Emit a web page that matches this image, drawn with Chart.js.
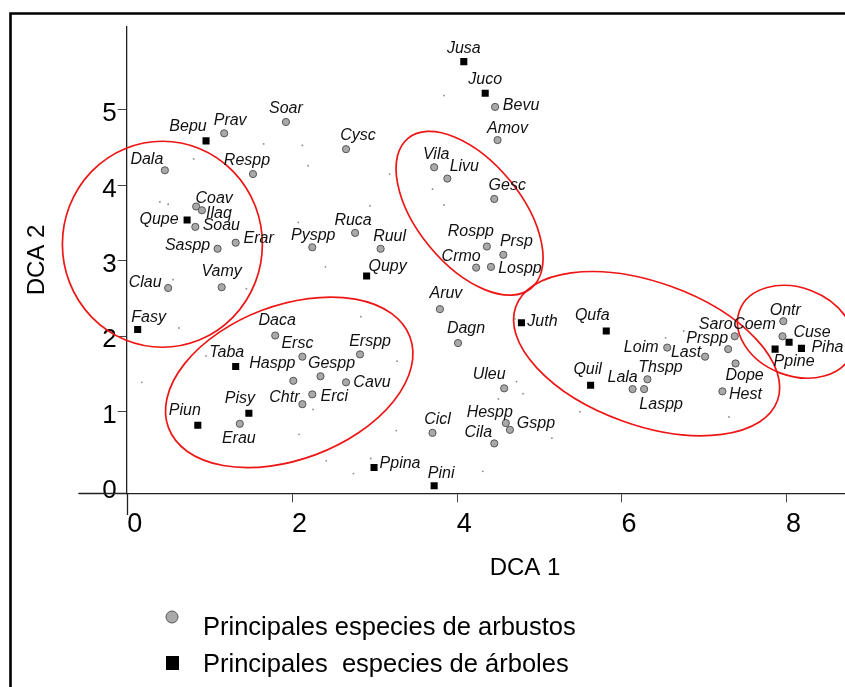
<!DOCTYPE html>
<html><head><meta charset="utf-8">
<script src="https://cdn.jsdelivr.net/npm/chart.js@4"></script>
<style>html,body{margin:0;padding:0;background:#fff;overflow:hidden}#wrap{width:845px;height:687px}</style>
</head><body><div id="wrap"><canvas id="c" width="845" height="687"></canvas></div>
<script>
// ---- data ----
const shrubNames = ['Prav','Soar','Dala','Respp','Coav','Ilaq','Soau','Erar','Saspp','Vamy','Clau','Daca','Ersc','Erspp','Gespp','Haspp','Cavu','Erci','Chtr','Erau','Bevu','Amov','Cysc','Vila','Livu','Gesc','Ruca','Pyspp','Ruul','Rospp','Prsp','Crmo','Lospp','Aruv','Dagn','Uleu','Hespp','Gspp','Cicl','Cila','Loim','Saro','Prspp','Last','Dope','Thspp','Lala','Laspp','Hest','Ontr','Coem'];
const shrubX = [1.17,1.92,0.45,1.52,0.83,0.90,0.82,1.31,1.09,1.14,0.49,1.79,2.12,2.82,2.34,2.01,2.65,2.24,2.12,1.36,4.46,4.49,2.65,3.72,3.88,4.45,2.76,2.24,3.07,4.36,4.56,4.23,4.41,3.79,4.01,4.57,4.59,4.64,3.70,4.45,6.55,7.37,7.29,7.01,7.38,6.31,6.13,6.27,7.22,7.96,7.95];
const shrubY = [4.69,4.84,4.20,4.15,3.72,3.67,3.45,3.24,3.16,2.65,2.64,2.01,1.73,1.76,1.47,1.41,1.39,1.23,1.10,0.84,5.04,4.60,4.48,4.24,4.09,3.82,3.37,3.18,3.16,3.19,3.08,2.91,2.92,2.36,1.91,1.31,0.85,0.76,0.72,0.58,1.85,2.00,1.83,1.73,1.64,1.43,1.30,1.30,1.27,2.20,2.00];

const treeNames = ['Bepu','Qupe','Fasy','Taba','Pisy','Piun','Ppina','Jusa','Juco','Qupy','Juth','Qufa','Quil','Pini','Cuse','Ppine','Piha'];
const treeX = [0.95,0.72,0.12,1.31,1.47,0.85,2.99,4.08,4.34,2.90,4.78,5.81,5.62,3.72,8.03,7.86,8.18];
const treeY = [4.59,3.54,2.09,1.60,0.98,0.82,0.26,5.64,5.22,2.80,2.18,2.07,1.35,0.02,1.92,1.83,1.84];

const siteX = [0.80,1.65,0.39,0.49,2.07,1.44,0.62,0.55,0.17,0.95,2.83,3.27,3.26,2.08,2.41,2.74,2.95,2.25,3.84,2.12,2.19,3.18,2.94,3.70,3.84,2.40,4.72,4.80,4.50,5.15,4.31,5.49,4.70,6.75,6.53,7.30];
const siteY = [4.35,4.55,3.78,3.75,3.51,2.63,2.11,2.75,1.39,1.74,2.26,1.67,0.75,0.70,0.35,0.18,0.38,1.03,5.19,4.53,4.26,4.15,3.73,3.95,3.74,2.92,1.40,1.24,1.17,0.65,0.21,1.00,2.23,2.07,1.98,0.93];

const xTickValues = [0,2,4,6,8];
const xTickLabels = ['0','2','4','6','8'];
const yTickValues = [0,1,2,3,4,5];
const yTickLabels = ['0','1','2','3','4','5'];
const xTitle = 'DCA 1';
const yTitle = 'DCA 2';
const legendLabels = ['Principales especies de arbustos', 'Principales  especies de árboles'];

// ---- annotation / style settings ----
const labelNudge = {
  Prav:[6,-13],Soar:[0,-13],Dala:[-18,-11],Respp:[-6,-14],Coav:[18,-8],Ilaq:[17,3],Soau:[26,-1],Erar:[23,-4],Saspp:[-30,-3],Vamy:[0,-16],Clau:[-23,-5],
  Daca:[2,-15],Ersc:[-5,-13],Erspp:[10,-13],Gespp:[11,-13],Haspp:[-21,-17],Cavu:[26,0],Erci:[22,2],Chtr:[-18,-7],Erau:[-1,15],
  Bevu:[26,-1],Amov:[10,-12],Cysc:[12,-14],Vila:[2,-13],Livu:[17,-12],Gesc:[13,-13],Ruca:[-2,-12],Pyspp:[1,-12],Ruul:[9,-12],Rospp:[-16,-15],Prsp:[13,-13],Crmo:[-15,-11],Lospp:[29,2],
  Aruv:[6,-16],Dagn:[8,-15],Uleu:[-15,-14],Hespp:[-16,-11],Gspp:[26,-6],Cicl:[5,-13],Cila:[-16,-11],
  Loim:[-26,0],Saro:[-19,-12],Prspp:[-21,-11],Last:[-19,-4],Dope:[9,12],Thspp:[13,-12],Lala:[-10,-12],Laspp:[17,15],Hest:[23,3],Ontr:[2,-11],Coem:[-28,-12],
  Bepu:[-18,-14],Qupe:[-28,-1],Fasy:[11,-12],Taba:[-9,-14],Pisy:[-9,-15],Piun:[-13,-15],Ppina:[26,-4],Jusa:[0,-13],Juco:[0,-14],Qupy:[21,-9],Juth:[21,-1],Qufa:[-14,-15],Quil:[-3,-16],Pini:[7,-12],Cuse:[23,-10],Ppine:[19,12],Piha:[26,-1]
};
// group ellipses: centre in data units, semi-axes in px, rotation in degrees
const groupEllipses = [
  {cx:0.42, cy:3.22, a:100, b:103, angle:0},
  {cx:1.96, cy:1.39, a:129, b:77, angle:-20.7},
  {cx:4.15, cy:3.63, a:97, b:52, angle:50.6},
  {cx:6.30, cy:1.77, a:139, b:71.5, angle:19.7},
  {cx:8.11, cy:2.06, a:60, b:44, angle:21}
];
const FONT = '"Liberation Sans", Arial, Helvetica, sans-serif';

const decorPlugin = {
  id: 'decor',
  beforeDatasetsDraw(chart) {
    const ctx = chart.ctx, xs = chart.scales.x, ys = chart.scales.y;
    ctx.save();
    ctx.strokeStyle = '#ee1515'; ctx.lineWidth = 1.7;
    groupEllipses.forEach(e => {
      ctx.beginPath();
      ctx.ellipse(xs.getPixelForValue(e.cx), ys.getPixelForValue(e.cy), e.a, e.b, e.angle * Math.PI / 180, 0, Math.PI * 2);
      ctx.stroke();
    });
    // axis extensions (x axis runs left past the y axis, y axis runs below the x axis)
    const ca = chart.chartArea;
    ctx.strokeStyle = '#222'; ctx.lineWidth = 1.3;
    ctx.beginPath();
    ctx.moveTo(xs.getPixelForValue(-0.6), Math.round(ca.bottom) + 0.5);
    ctx.lineTo(ca.left, Math.round(ca.bottom) + 0.5);
    ctx.moveTo(Math.round(ca.left) + 0.5, ca.bottom);
    ctx.lineTo(Math.round(ca.left) + 0.5, ys.getPixelForValue(-0.37));
    ctx.stroke();
    ctx.restore();
  },
  afterDatasetsDraw(chart) {
    const ctx = chart.ctx;
    ctx.save();
    ctx.font = 'italic 16px ' + FONT;
    ctx.fillStyle = '#111';
    ctx.textAlign = 'center'; ctx.textBaseline = 'middle';
    [[1, shrubNames], [2, treeNames]].forEach(([di, names]) => {
      chart.getDatasetMeta(di).data.forEach((el, i) => {
        const n = names[i]; const o = labelNudge[n] || [0, -13];
        ctx.fillText(n, el.x + o[0], el.y + o[1]);
      });
    });
    ctx.restore();
  },
  afterDraw(chart) {
    const ctx = chart.ctx;
    ctx.save();
    // frame
    ctx.strokeStyle = '#000'; ctx.lineWidth = 2.6;
    ctx.beginPath(); ctx.moveTo(10.5, 700); ctx.lineTo(10.5, 13.5); ctx.lineTo(860, 13.5); ctx.stroke();
    // x title
    ctx.fillStyle = '#000';
    ctx.font = '24px ' + FONT; ctx.textAlign = 'center'; ctx.textBaseline = 'middle';
    ctx.fillText(xTitle, 525, 568);
    // legend
    ctx.beginPath(); ctx.arc(172, 617, 6, 0, Math.PI * 2);
    ctx.fillStyle = '#a9a9a9'; ctx.fill(); ctx.strokeStyle = '#555'; ctx.lineWidth = 1; ctx.stroke();
    ctx.fillStyle = '#000'; ctx.fillRect(166, 656, 13, 14);
    ctx.font = '25.5px ' + FONT; ctx.textAlign = 'left'; ctx.textBaseline = 'alphabetic';
    ctx.fillText(legendLabels[0], 203, 635);
    ctx.fillText(legendLabels[1], 203, 672);
    ctx.restore();
  }
};

const tickCol = ctx => (ctx.tick && ctx.tick.value === 0) ? 'rgba(0,0,0,0)' : '#444';

new Chart(document.getElementById('c'), {
  type: 'scatter',
  data: {
    datasets: [
      { label: 'sitios', data: siteX.map((x, i) => ({x, y: siteY[i]})), pointRadius: 0.9, pointBackgroundColor: '#8a8a8a', pointBorderWidth: 0 },
      { label: legendLabels[0], data: shrubX.map((x, i) => ({x, y: shrubY[i]})), pointStyle: 'circle', pointRadius: 3.6, pointBackgroundColor: '#a9a9a9', pointBorderColor: '#555', pointBorderWidth: 1 },
      { label: legendLabels[1], data: treeX.map((x, i) => ({x, y: treeY[i]})), pointStyle: 'rect', pointRadius: 5, pointBackgroundColor: '#000', pointBorderColor: '#000', pointBorderWidth: 0 }
    ]
  },
  options: {
    responsive: false, animation: false, devicePixelRatio: 1,
    layout: { autoPadding: false, padding: { left: 10, top: 26.7, right: 0, bottom: 133.7 } },
    plugins: { legend: { display: false }, tooltip: { enabled: false } },
    scales: {
      x: {
        type: 'linear', position: 'bottom', min: -0.0134, max: 8.709,
        afterBuildTicks: s => { s.ticks = xTickValues.map(v => ({value: v})); },
        afterFit: s => { s.height = 60; },
        grid: { display: true, drawOnChartArea: false, drawTicks: true, tickLength: 9, tickWidth: 1, tickColor: tickCol },
        border: { display: true, color: '#222', width: 1.3 },
        ticks: { color: '#000', font: { family: FONT, size: 27 }, padding: 6, labelOffset: 7, maxRotation: 0, autoSkip: false,
                 callback: (v, i) => xTickLabels[i] },
        title: { display: false, text: xTitle }
      },
      y: {
        type: 'linear', position: 'left', min: -0.081, max: 6.103,
        afterBuildTicks: s => { s.ticks = yTickValues.map(v => ({value: v})); },
        afterFit: s => { s.width = 116.7; },
        grid: { display: true, drawOnChartArea: false, drawTicks: true, tickLength: 9, tickWidth: 1, tickColor: tickCol },
        border: { display: true, color: '#222', width: 1.3 },
        ticks: { color: '#000', font: { family: FONT, size: 26 }, padding: 1, labelOffset: 4, autoSkip: false,
                 callback: (v, i) => yTickLabels[i] },
        title: { display: true, text: yTitle, color: '#000', font: { family: FONT, size: 24 }, padding: { top: 13, bottom: 0 } }
      }
    }
  },
  plugins: [decorPlugin]
});
</script>
</body></html>
